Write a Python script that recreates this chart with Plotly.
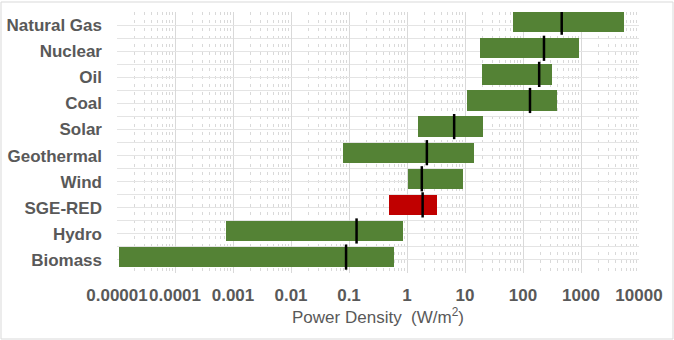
import plotly.graph_objects as go

categories = ["Biomass", "Hydro", "SGE-RED", "Wind", "Geothermal", "Solar", "Coal", "Oil", "Nuclear", "Natural Gas"]
low = [1.1e-5, 0.00076, 0.49, 1.05, 0.08, 1.55, 11, 20, 18, 68]
high = [0.6, 0.87, 3.3, 9.1, 14.5, 20.5, 380, 316, 930, 5500]
median = [0.089, 0.135, 1.86, 1.8, 2.2, 6.5, 132, 190, 230, 465]
bar_colors = ["#548235", "#548235", "#C00000", "#548235", "#548235", "#548235", "#548235", "#548235", "#548235", "#548235"]
tick_vals = [1e-5, 1e-4, 1e-3, 1e-2, 1e-1, 1, 10, 100, 1000, 10000]
tick_text = ["0.00001", "0.0001", "0.001", "0.01", "0.1", "1", "10", "100", "1000", "10000"]

ypos = list(range(len(categories)))
BAR_W = 0.78
BAR_OFF = -0.28

fig = go.Figure()
fig.add_trace(go.Bar(
    y=ypos, x=[h - l for l, h in zip(low, high)], base=low, orientation="h",
    marker=dict(color=bar_colors, line=dict(width=0)),
    width=BAR_W, offset=BAR_OFF, showlegend=False, hoverinfo="skip",
))
fig.add_trace(go.Scatter(
    y=[p + BAR_OFF + BAR_W / 2 for p in ypos], x=median, mode="markers",
    marker=dict(symbol="line-ns", size=18, line=dict(width=2.5, color="black"), color="black"),
    showlegend=False, hoverinfo="skip",
))

minor_x = [m * 10 ** e for e in range(-5, 4) for m in range(2, 10)]
grid = "#D9D9D9"
font_col = "#595959"
FONT = "Liberation Sans, Arial"

fig.update_layout(
    width=674, height=340,
    margin=dict(l=117, r=35, t=12, b=67),
    paper_bgcolor="white", plot_bgcolor="white",
    font=dict(family=FONT, color=font_col, size=17),
    bargap=0,
    xaxis=dict(
        type="log", range=[-5, 4], automargin=False, tickangle=0,
        tickmode="array", tickvals=tick_vals, ticktext=tick_text,
        tickfont=dict(size=17, family=FONT, weight="bold", color=font_col),
        showgrid=True, gridcolor=grid, gridwidth=1,
        minor=dict(tickmode="array", tickvals=minor_x, showgrid=True, gridcolor=grid, griddash="3px,5px", gridwidth=1, ticks=""),
        showline=False, zeroline=False, ticks="", ticklen=0, ticklabelstandoff=10,
        title=dict(text="Power Density  (W/m<sup>2</sup>)", font=dict(size=17, family=FONT, color=font_col), standoff=4),
    ),
    yaxis=dict(
        range=[-0.5, 9.5], automargin=False,
        tickmode="array", tickvals=ypos, ticktext=categories,
        tickfont=dict(size=17, family=FONT, weight="bold", color=font_col),
        showgrid=True, gridcolor="#E4E4E4", gridwidth=1,
        minor=dict(tickmode="array", tickvals=[p - 0.5 for p in ypos] + [9.5], showgrid=True, gridcolor="#E4E4E4", gridwidth=1, ticks=""),
        showline=False, zeroline=False, ticks="", ticklabelstandoff=14,
    ),
    shapes=[dict(type="rect", xref="paper", yref="paper",
                 x0=-116 / 522, x1=1 + 34 / 522, y0=-66 / 261, y1=1 + 10 / 261,
                 line=dict(color="#D9D9D9", width=1), layer="below")],
)

fig.write_html("out.html")
